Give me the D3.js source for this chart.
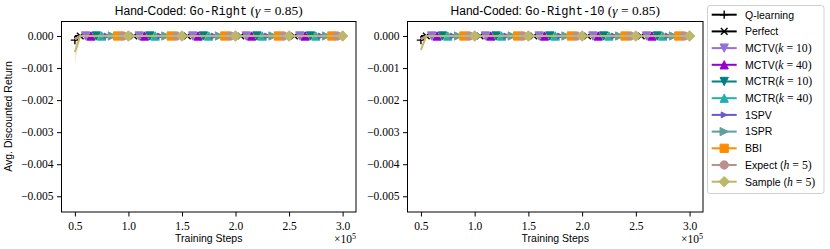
<!DOCTYPE html>
<html>
<head>
<meta charset="utf-8">
<script src="https://cdn.jsdelivr.net/npm/d3@7"></script>
<style>
  body { margin: 0; background: #fff; }
  svg { display: block; }
</style>
</head>
<body>
<svg id="chart" width="830" height="249"></svg>
<script>
// training steps at which the returns were logged
const steps = [50000,55000,60000,65000,70000,75000,80000,85000,90000,95000,
  100000,105000,110000,115000,120000,125000,130000,135000,140000,145000,
  150000,155000,160000,165000,170000,175000,180000,185000,190000,195000,
  200000,205000,210000,215000,220000,225000,230000,235000,240000,245000,
  250000,255000,260000,265000,270000,275000,280000,285000,290000,295000,300000];

// Go-Right
const qLearningGR = [-0.00013,0,0,0,0,0,0,0,0,0,0,0,0,0,0,0,0,0,0,0,0,0,0,0,0,0,0,0,0,0,0,0,0,0,0,0,0,0,0,0,0,0,0,0,0,0,0,0,0,0,0];
const perfectGR   = [0,0,0,0,0,0,0,0,0,0,0,0,0,0,0,0,0,0,0,0,0,0,0,0,0,0,0,0,0,0,0,0,0,0,0,0,0,0,0,0,0,0,0,0,0,0,0,0,0,0,0];
const mctv10GR    = [-0.0001,0,0,0,0,0,0,0,0,0,0,0,0,0,0,0,0,0,0,0,0,0,0,0,0,0,0,0,0,0,0,0,0,0,0,0,0,0,0,0,0,0,0,0,0,0,0,0,0,0,0];
const mctv40GR    = [-0.0001,0,0,0,0,0,0,0,0,0,0,0,0,0,0,0,0,0,0,0,0,0,0,0,0,0,0,0,0,0,0,0,0,0,0,0,0,0,0,0,0,0,0,0,0,0,0,0,0,0,0];
const mctr10GR    = [-0.0001,0,0,0,0,0,0,0,0,0,0,0,0,0,0,0,0,0,0,0,0,0,0,0,0,0,0,0,0,0,0,0,0,0,0,0,0,0,0,0,0,0,0,0,0,0,0,0,0,0,0];
const mctr40GR    = [-0.0001,0,0,0,0,0,0,0,0,0,0,0,0,0,0,0,0,0,0,0,0,0,0,0,0,0,0,0,0,0,0,0,0,0,0,0,0,0,0,0,0,0,0,0,0,0,0,0,0,0,0];
const spv1GR      = [-0.0001,0,0,0,0,0,0,0,0,0,0,0,0,0,0,0,0,0,0,0,0,0,0,0,0,0,0,0,0,0,0,0,0,0,0,0,0,0,0,0,0,0,0,0,0,0,0,0,0,0,0];
const spr1GR      = [-0.0001,0,0,0,0,0,0,0,0,0,0,0,0,0,0,0,0,0,0,0,0,0,0,0,0,0,0,0,0,0,0,0,0,0,0,0,0,0,0,0,0,0,0,0,0,0,0,0,0,0,0];
const bbiGR       = [-0.0001,0,0,0,0,0,0,0,0,0,0,0,0,0,0,0,0,0,0,0,0,0,0,0,0,0,0,0,0,0,0,0,0,0,0,0,0,0,0,0,0,0,0,0,0,0,0,0,0,0,0];
const expectGR    = [-0.0001,0,0,0,0,0,0,0,0,0,0,0,0,0,0,0,0,0,0,0,0,0,0,0,0,0,0,0,0,0,0,0,0,0,0,0,0,0,0,0,0,0,0,0,0,0,0,0,0,0,0];
const sampleGR    = [-0.0005,0,0,0,0,0,0,0,0,0,0,0,0,0,0,0,0,0,0,0,0,0,0,0,0,0,0,0,0,0,0,0,0,0,0,0,0,0,0,0,0,0,0,0,0,0,0,0,0,0,0];
const sampleErrGR = [0.0004,0,0,0,0,0,0,0,0,0,0,0,0,0,0,0,0,0,0,0,0,0,0,0,0,0,0,0,0,0,0,0,0,0,0,0,0,0,0,0,0,0,0,0,0,0,0,0,0,0,0];

// Go-Right-10
const qLearningGR10 = [-0.00013,0,0,0,0,0,0,0,0,0,0,0,0,0,0,0,0,0,0,0,0,0,0,0,0,0,0,0,0,0,0,0,0,0,0,0,0,0,0,0,0,0,0,0,0,0,0,0,0,0,0];
const perfectGR10   = [0,0,0,0,0,0,0,0,0,0,0,0,0,0,0,0,0,0,0,0,0,0,0,0,0,0,0,0,0,0,0,0,0,0,0,0,0,0,0,0,0,0,0,0,0,0,0,0,0,0,0];
const mctv10GR10    = [-0.0001,0,0,0,0,0,0,0,0,0,0,0,0,0,0,0,0,0,0,0,0,0,0,0,0,0,0,0,0,0,0,0,0,0,0,0,0,0,0,0,0,0,0,0,0,0,0,0,0,0,0];
const mctv40GR10    = [-0.0001,0,0,0,0,0,0,0,0,0,0,0,0,0,0,0,0,0,0,0,0,0,0,0,0,0,0,0,0,0,0,0,0,0,0,0,0,0,0,0,0,0,0,0,0,0,0,0,0,0,0];
const mctr10GR10    = [-0.0001,0,0,0,0,0,0,0,0,0,0,0,0,0,0,0,0,0,0,0,0,0,0,0,0,0,0,0,0,0,0,0,0,0,0,0,0,0,0,0,0,0,0,0,0,0,0,0,0,0,0];
const mctr40GR10    = [-0.0001,0,0,0,0,0,0,0,0,0,0,0,0,0,0,0,0,0,0,0,0,0,0,0,0,0,0,0,0,0,0,0,0,0,0,0,0,0,0,0,0,0,0,0,0,0,0,0,0,0,0];
const spv1GR10      = [-0.0001,0,0,0,0,0,0,0,0,0,0,0,0,0,0,0,0,0,0,0,0,0,0,0,0,0,0,0,0,0,0,0,0,0,0,0,0,0,0,0,0,0,0,0,0,0,0,0,0,0,0];
const spr1GR10      = [-0.0001,0,0,0,0,0,0,0,0,0,0,0,0,0,0,0,0,0,0,0,0,0,0,0,0,0,0,0,0,0,0,0,0,0,0,0,0,0,0,0,0,0,0,0,0,0,0,0,0,0,0];
const bbiGR10       = [-0.0001,0,0,0,0,0,0,0,0,0,0,0,0,0,0,0,0,0,0,0,0,0,0,0,0,0,0,0,0,0,0,0,0,0,0,0,0,0,0,0,0,0,0,0,0,0,0,0,0,0,0];
const expectGR10    = [-0.0001,0,0,0,0,0,0,0,0,0,0,0,0,0,0,0,0,0,0,0,0,0,0,0,0,0,0,0,0,0,0,0,0,0,0,0,0,0,0,0,0,0,0,0,0,0,0,0,0,0,0];
const sampleGR10    = [-0.00043,0,0,0,0,0,0,0,0,0,0,0,0,0,0,0,0,0,0,0,0,0,0,0,0,0,0,0,0,0,0,0,0,0,0,0,0,0,0,0,0,0,0,0,0,0,0,0,0,0,0];
const sampleErrGR10 = [0.00006,0,0,0,0,0,0,0,0,0,0,0,0,0,0,0,0,0,0,0,0,0,0,0,0,0,0,0,0,0,0,0,0,0,0,0,0,0,0,0,0,0,0,0,0,0,0,0,0,0,0];

const yTicks = [0, -0.001, -0.002, -0.003, -0.004, -0.005];
const xTicks = [50000, 100000, 150000, 200000, 250000, 300000];

// legend labels: [text, font kind]
const labels = [
  [["Q-learning", "sans"]],
  [["Perfect", "sans"]],
  [["MCTV(", "sans"], ["k", "it"], [" = 10)", "serif"]],
  [["MCTV(", "sans"], ["k", "it"], [" = 40)", "serif"]],
  [["MCTR(", "sans"], ["k", "it"], [" = 10)", "serif"]],
  [["MCTR(", "sans"], ["k", "it"], [" = 40)", "serif"]],
  [["1SPV", "sans"]],
  [["1SPR", "sans"]],
  [["BBI", "sans"]],
  [["Expect (", "sans"], ["h", "it"], [" = 5)", "serif"]],
  [["Sample (", "sans"], ["h", "it"], [" = 5)", "serif"]]
];
const colors = ["#000000", "#000000", "#9370db", "#9400d3", "#008080", "#20b2aa",
  "#6a5acd", "#5f9ea0", "#ff8c00", "#bc8f8f", "#bdb76b"];
const markers = ["plus", "x", "tri-down", "tri-up", "tri-down", "tri-up",
  "tri-right", "tri-right", "square", "circle", "diamond"];
const markerSizes = [8.3, 8.3, 8.3, 8.3, 8.3, 8.3, 6, 8.3, 8.3, 8.3, 8.3];

const panels = [
  { name: "Go-Right", series: [qLearningGR, perfectGR, mctv10GR, mctv40GR, mctr10GR, mctr40GR, spv1GR, spr1GR, bbiGR, expectGR, sampleGR],
    err: sampleErrGR, left: 61.5, right: 356, yLabel: true },
  { name: "Go-Right-10", series: [qLearningGR10, perfectGR10, mctv10GR10, mctv40GR10, mctr10GR10, mctr40GR10, spv1GR10, spr1GR10, bbiGR10, expectGR10, sampleGR10],
    err: sampleErrGR10, left: 407.5, right: 703, yLabel: false }
];

const plotTop = 21, plotBottom = 212;
const sans = "'Liberation Sans', Arial, sans-serif";
const serif = "'Liberation Serif', 'DejaVu Serif', serif";
const mono = "'Liberation Mono', 'DejaVu Sans Mono', monospace";

function markerPath(type, s) {
  const h = s / 2;
  switch (type) {
    case "tri-up": return `M0,${-h}L${h},${h}L${-h},${h}Z`;
    case "tri-down": return `M0,${h}L${h},${-h}L${-h},${-h}Z`;
    case "tri-right": return `M${h},0L${-h},${-h}L${-h},${h}Z`;
    case "square": return `M${-h},${-h}h${s}v${s}h${-s}Z`;
    case "diamond": { const d = h * Math.SQRT2 * 0.9; return `M0,${-d}L${d},0L0,${d}L${-d},0Z`; }
    case "circle": return d3.symbol(d3.symbolCircle, Math.PI * h * h)();
    case "plus": return `M${-h},0H${h}M0,${-h}V${h}`;
    case "x": return `M${-h * 0.8},${-h * 0.8}L${h * 0.8},${h * 0.8}M${-h * 0.8},${h * 0.8}L${h * 0.8},${-h * 0.8}`;
  }
}

function drawMarker(g, i, cx, cy) {
  const open = markers[i] === "plus" || markers[i] === "x";
  g.append("path")
    .attr("transform", `translate(${cx},${cy})`)
    .attr("d", markerPath(markers[i], markerSizes[i]))
    .attr("fill", open ? "none" : colors[i])
    .attr("stroke", colors[i])
    .attr("stroke-width", open ? 1.4 : 1)
    .attr("stroke-linejoin", "miter");
}

// mixed sans / mono / math runs, math runs a bit larger like CM fonts
function addRich(sel, parts, size) {
  parts.forEach(([t, kind]) => {
    const ts = sel.append("tspan").text(t);
    if (kind === "sans") ts.attr("font-family", sans);
    if (kind === "mono") ts.attr("font-family", mono);
    if (kind === "serif") ts.attr("font-family", serif).attr("font-size", size * 1.12);
    if (kind === "it") ts.attr("font-family", serif).attr("font-style", "italic").attr("font-size", size * 1.12);
  });
}

const svg = d3.select("#chart");
svg.append("rect").attr("width", 830).attr("height", 249).attr("fill", "#fff");

const y = d3.scaleLinear().domain([-0.00549, 0.000468]).range([plotBottom, plotTop]);

panels.forEach(p => {
  const x = d3.scaleLinear().domain([37500, 312500]).range([p.left, p.right]);
  const g = svg.append("g");

  // shaded spread of the Sample curve
  g.append("path")
    .datum(steps.map((s, k) => [s, p.series[10][k] - p.err[k], p.series[10][k] + p.err[k]]))
    .attr("d", d3.area().x(d => x(d[0])).y0(d => y(d[1])).y1(d => y(d[2])))
    .attr("fill", colors[10]).attr("fill-opacity", 0.25);

  p.series.forEach((vals, i) => {
    g.append("path")
      .datum(vals)
      .attr("d", d3.line().x((d, k) => x(steps[k])).y(d => y(d)))
      .attr("fill", "none")
      .attr("stroke", colors[i])
      .attr("stroke-width", 2)
      .attr("stroke-linejoin", "round");
    // markevery 10 points, shifted by series index
    vals.forEach((v, k) => {
      if (k >= i && (k - i) % 10 === 0) drawMarker(g, i, x(steps[k]), y(v));
    });
  });

  // axes
  const ya = g.append("g").attr("transform", `translate(${p.left},0)`)
    .call(d3.axisLeft(y).tickValues(yTicks).tickSize(4.5).tickPadding(3.5)
      .tickFormat(d => d3.format(".3f")(d)));
  const xa = g.append("g").attr("transform", `translate(0,${plotBottom})`)
    .call(d3.axisBottom(x).tickValues(xTicks).tickSize(4.5).tickPadding(5)
      .tickFormat(d => (d / 1e5).toFixed(1)));
  [ya, xa].forEach(a => {
    a.select(".domain").remove();
    a.selectAll("line").attr("stroke", "#000").attr("stroke-width", 1);
    a.selectAll("text").attr("font-family", serif).attr("font-size", 11.5).attr("fill", "#000");
  });

  g.append("rect")
    .attr("x", p.left).attr("y", plotTop + 0.5)
    .attr("width", p.right - p.left).attr("height", plotBottom - plotTop - 0.5)
    .attr("fill", "none").attr("stroke", "#000").attr("stroke-width", 1);

  const cx = (p.left + p.right) / 2;
  const title = g.append("text").attr("x", cx).attr("y", 15)
    .attr("text-anchor", "middle").attr("font-size", 12).attr("fill", "#000");
  addRich(title, [["Hand-Coded: ", "sans"], [p.name, "mono"], [" (", "serif"], ["γ", "it"], [" = 0.85)", "serif"]], 12);

  g.append("text").attr("x", cx).attr("y", 242)
    .attr("text-anchor", "middle").attr("font-family", sans).attr("font-size", 10.5)
    .text("Training Steps");

  const off = g.append("text").attr("x", p.right).attr("y", 243)
    .attr("text-anchor", "end").attr("font-family", serif).attr("font-size", 11.5);
  off.append("tspan").text("×10");
  off.append("tspan").attr("dy", -4.5).attr("font-size", 8).text("5");

  if (p.yLabel) {
    g.append("text")
      .attr("transform", `translate(11.5,${(plotTop + plotBottom) / 2}) rotate(-90)`)
      .attr("text-anchor", "middle").attr("font-family", sans).attr("font-size", 10.5)
      .text("Avg. Discounted Return");
  }
});

// legend
const lg = svg.append("g");
lg.append("rect")
  .attr("x", 707.5).attr("y", 5.5).attr("width", 116.5).attr("height", 188)
  .attr("rx", 2.5).attr("fill", "#fff").attr("fill-opacity", 0.8)
  .attr("stroke", "#d0d0d0").attr("stroke-width", 1);
labels.forEach((parts, i) => {
  const ly = 14.7 + i * 16.7;
  lg.append("line").attr("x1", 711.7).attr("x2", 736.7).attr("y1", ly).attr("y2", ly)
    .attr("stroke", colors[i]).attr("stroke-width", 2);
  drawMarker(lg, i, 724.2, ly);
  const t = lg.append("text").attr("x", 745).attr("y", ly + 3.8)
    .attr("font-size", 10.5).attr("fill", "#000");
  addRich(t, parts, 10.5);
});
</script>
</body>
</html>
